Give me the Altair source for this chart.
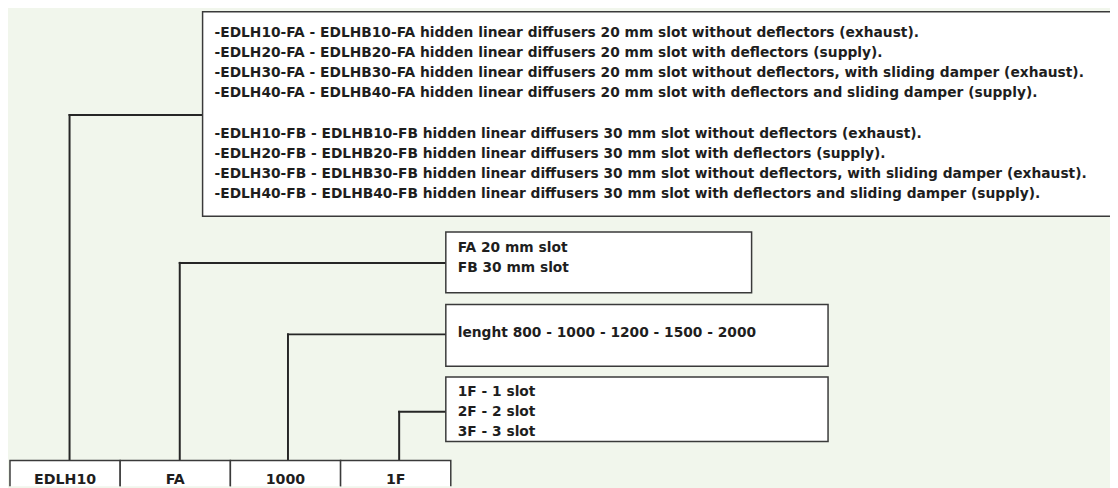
import altair as alt
import pandas as pd

# ---- content ----
big_lines = [
    "-EDLH10-FA - EDLHB10-FA hidden linear diffusers 20 mm slot without deflectors (exhaust).",
    "-EDLH20-FA - EDLHB20-FA hidden linear diffusers 20 mm slot with deflectors (supply).",
    "-EDLH30-FA - EDLHB30-FA hidden linear diffusers 20 mm slot without deflectors, with sliding damper (exhaust).",
    "-EDLH40-FA - EDLHB40-FA hidden linear diffusers 20 mm slot with deflectors and sliding damper (supply).",
    "",
    "-EDLH10-FB - EDLHB10-FB hidden linear diffusers 30 mm slot without deflectors (exhaust).",
    "-EDLH20-FB - EDLHB20-FB hidden linear diffusers 30 mm slot with deflectors (supply).",
    "-EDLH30-FB - EDLHB30-FB hidden linear diffusers 30 mm slot without deflectors, with sliding damper (exhaust).",
    "-EDLH40-FB - EDLHB40-FB hidden linear diffusers 30 mm slot with deflectors and sliding damper (supply).",
]
slot_lines = ["FA 20 mm slot", "FB 30 mm slot"]
length_lines = ["lenght 800 - 1000 - 1200 - 1500 - 2000"]
count_lines = ["1F - 1 slot", "2F - 2 slot", "3F - 3 slot"]
code_parts = ["EDLH10", "FA", "1000", "1F"]

# ---- layout (diagram geometry in page pixels) ----
boxes = pd.DataFrame({
    "x": [204, 449, 449, 449, 10, 121, 232, 343],
    "x2": [1130, 757, 834, 834, 121, 232, 343, 454],
    "y": [10, 232, 305, 378, 462, 462, 462, 462],
    "y2": [216, 293, 367, 443, 500, 500, 500, 500],
})

segs = pd.DataFrame({
    "x":  [70, 70, 181, 181, 290, 290, 402, 402],
    "y":  [462, 114, 462, 263, 462, 335, 462, 413],
    "x2": [70, 204, 181, 449, 290, 449, 402, 449],
    "y2": [114, 114, 263, 263, 335, 335, 413, 413],
})

rows = []
for i, t in enumerate(big_lines):
    if t:
        rows.append({"x": 216, "y": 31.5 + 20.3 * i, "t": t})
for i, t in enumerate(slot_lines):
    rows.append({"x": 461, "y": 248 + 20 * i, "t": t})
for i, t in enumerate(length_lines):
    rows.append({"x": 461, "y": 334, "t": t})
for i, t in enumerate(count_lines):
    rows.append({"x": 461, "y": 393 + 20 * i, "t": t})
left_text = pd.DataFrame(rows)

centers = [65.5, 176.5, 287.5, 398.5]
code_df = pd.DataFrame({"x": centers, "y": [481.5] * 4, "t": code_parts})

xs = alt.Scale(domain=[8, 1118], nice=False, zero=False)
ys = alt.Scale(domain=[8, 488], nice=False, zero=False, reverse=True)

def X(f="x"):
    return alt.X(f + ":Q", scale=xs, axis=None)

def Y(f="y"):
    return alt.Y(f + ":Q", scale=ys, axis=None)

FONT = "DejaVu Sans"

rects = alt.Chart(boxes).mark_rect(
    fill="white", stroke="#3a3a3a", strokeWidth=1.5, clip=True
).encode(x=X(), x2="x2:Q", y=Y(), y2="y2:Q")

lines = alt.Chart(segs).mark_rule(
    stroke="#262626", strokeWidth=2, strokeCap="square"
).encode(x=X(), x2="x2:Q", y=Y(), y2="y2:Q")

txt = alt.Chart(left_text).mark_text(
    align="left", baseline="middle", font=FONT, fontWeight="bold",
    fontSize=13.9, color="#1e1e1e"
).encode(x=X(), y=Y(), text="t:N")

codes = alt.Chart(code_df).mark_text(
    align="center", baseline="middle", font=FONT, fontWeight="bold",
    fontSize=14.3, color="#1e1e1e", clip=True
).encode(x=X(), y=Y(), text="t:N")

chart = alt.layer(lines, rects, txt, codes).properties(
    width=1110, height=480, padding=0,
    autosize=alt.AutoSizeParams(type="none"),
    background="#f1f6ec",
).configure_view(stroke=None)

chart.save("out.html", embed_options={"renderer": "svg", "actions": False})
